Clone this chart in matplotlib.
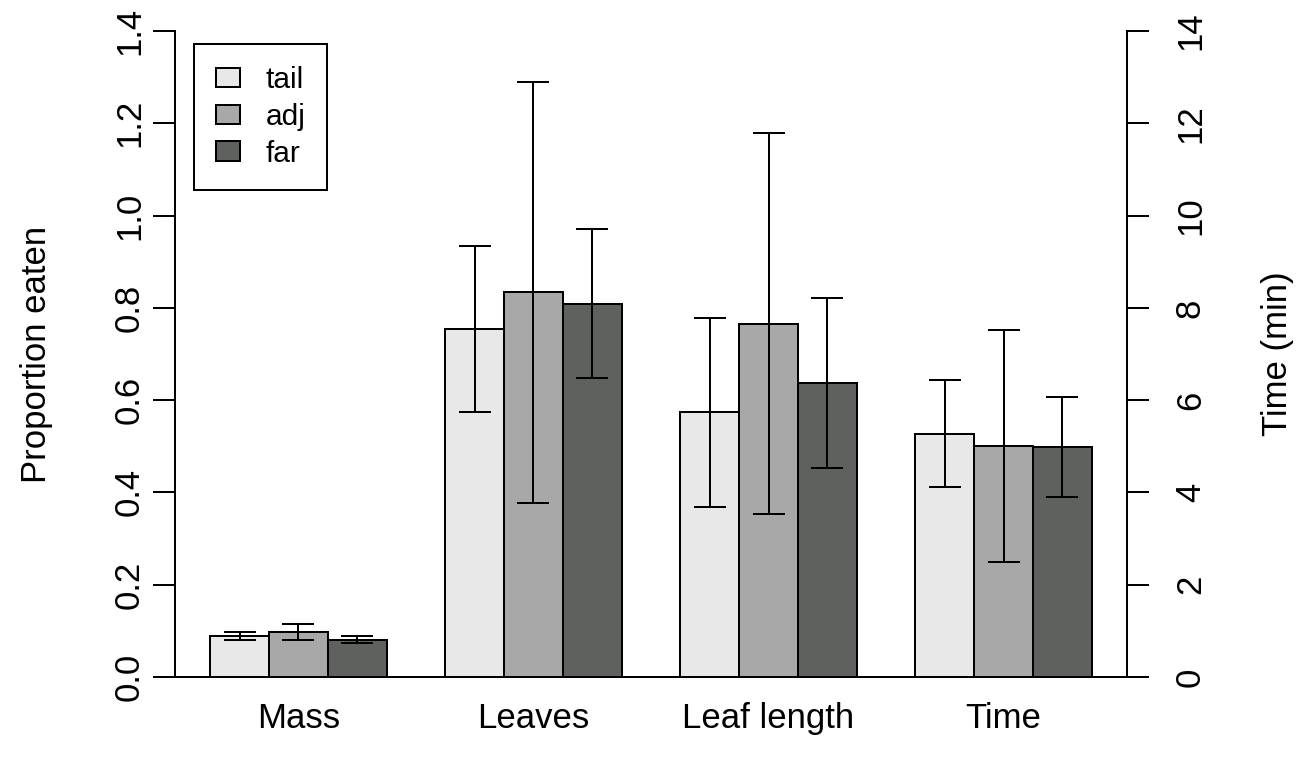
import matplotlib
matplotlib.use('Agg')
import matplotlib.pyplot as plt
import numpy as np

plt.rcParams['font.family'] = ['Liberation Sans', 'DejaVu Sans']

groups = ["Mass", "Leaves", "Leaf length", "Time"]
series = ["tail", "adj", "far"]
colors = ["#e8e8e8", "#a8a8a8", "#5f615f"]

# proportion eaten for Mass, Leaves, Leaf length
tail = [0.089, 0.754, 0.574]
adj = [0.097, 0.834, 0.766]
far = [0.081, 0.809, 0.637]
tail_err = [0.009, 0.180, 0.205]
adj_err = [0.017, 0.456, 0.413]
far_err = [0.0075, 0.162, 0.185]

# time in minutes (right axis)
time_mean = [5.27, 5.01, 4.98]
time_err = [1.16, 2.52, 1.08]

ymax_left = 1.4
ymax_right = 14
scale = ymax_left / ymax_right

means = [tail + [time_mean[0] * scale], adj + [time_mean[1] * scale], far + [time_mean[2] * scale]]
errs = [tail_err + [time_err[0] * scale], adj_err + [time_err[1] * scale], far_err + [time_err[2] * scale]]

fig = plt.figure(figsize=(13.15, 7.66), dpi=100)
ax1 = fig.add_axes([175 / 1315, (766 - 677) / 766, (1127 - 175) / 1315, (677 - 31) / 766])

lw = 1.44
for i, s in enumerate(series):
    xpos = np.arange(len(groups)) * 4 + 1.5 + i
    ax1.bar(xpos, means[i], width=1.0, color=colors[i], edgecolor='black',
            linewidth=lw, label=s, zorder=2)
    ax1.errorbar(xpos, means[i], yerr=errs[i], fmt='none', ecolor='black',
                 elinewidth=lw, capsize=11.3, capthick=lw, zorder=3)

ax1.set_xlim(0.4, 16.6)
ax1.set_ylim(0, ymax_left)
ax1.set_xticks(np.arange(len(groups)) * 4 + 2.5)
ax1.set_xticklabels(groups, fontsize=25)
ax1.tick_params(axis='x', length=0, pad=18)
ax1.set_yticks(np.arange(0, 1.41, 0.2))
ax1.set_yticklabels(["%.1f" % v for v in np.arange(0, 1.41, 0.2)], fontsize=25,
                    rotation=90, va='center')
ax1.tick_params(axis='y', direction='out', length=15.8, width=lw, pad=5)
ax1.set_ylabel("Proportion eaten", fontsize=25, labelpad=43)

for side in ['top', 'right']:
    ax1.spines[side].set_visible(False)
ax1.spines['left'].set_linewidth(lw)
ax1.spines['bottom'].set_linewidth(lw)

ax2 = ax1.twinx()
ax2.set_ylim(0, ymax_right)
ax2.set_yticks(np.arange(0, 15, 2))
ax2.set_yticklabels([str(v) for v in range(0, 15, 2)], fontsize=25, rotation=90, va='center')
ax2.tick_params(axis='y', direction='out', length=15.8, width=lw, pad=18)
ax2.set_ylabel("Time (min)", fontsize=25, labelpad=39)
for side in ['top', 'left', 'bottom']:
    ax2.spines[side].set_visible(False)
ax2.spines['right'].set_linewidth(lw)

lgd = ax1.legend(loc='upper left', bbox_to_anchor=(0.020, 0.980), borderaxespad=0,
                 fontsize=21.5, fancybox=False, edgecolor='black', framealpha=1,
                 handlelength=0.8, handleheight=0.65, handletextpad=0.85,
                 borderpad=0.74, labelspacing=0.3)
lgd.get_frame().set_linewidth(lw)

fig.savefig("out.png", dpi=100)
